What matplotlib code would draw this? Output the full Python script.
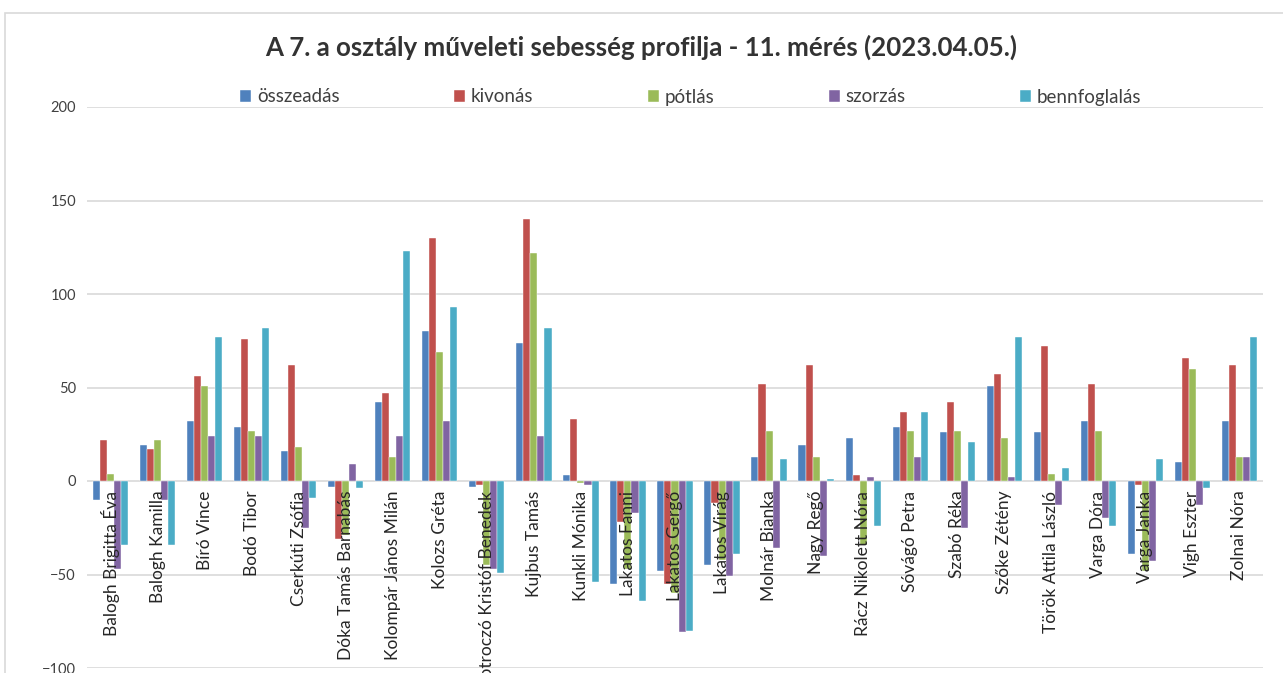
import matplotlib.pyplot as plt
import numpy as np
from matplotlib.patches import Rectangle

plt.rcParams['font.family'] = ['Lato', 'DejaVu Sans']

students = [
    'Balogh Brigitta Éva', 'Balogh Kamilla', 'Bíró Vince', 'Bodó Tibor',
    'Cserkúti Zsófia', 'Dóka Tamás Barnabás', 'Kolompár János Milán',
    'Kolozs Gréta', 'Kotroczó Kristóf Benedek', 'Kujbus Tamás',
    'Kunkli Mónika', 'Lakatos Fanni', 'Lakatos Gergő', 'Lakatos Virág',
    'Molnár Bianka', 'Nagy Regő', 'Rácz Nikolett Nóra', 'Sóvágó Petra',
    'Szabó Réka', 'Szőke Zétény', 'Török Attila László', 'Varga Dóra',
    'Varga Janka', 'Vigh Eszter', 'Zolnai Nóra',
]

osszeadas = [-10, 19, 32, 29, 16, -3, 42, 80, -3, 74, 3, -55, -48, -45,
             13, 19, 23, 29, 26, 51, 26, 32, -39, 10, 32]
kivonas = [22, 17, 56, 76, 62, -31, 47, 130, -2, 140, 33, -22, -55, -12,
           52, 62, 3, 37, 42, 57, 72, 52, -2, 66, 62]
potlas = [4, 22, 51, 27, 18, -29, 13, 69, -45, 122, -1, -47, -60, -42,
          27, 13, -34, 27, 27, 23, 4, 27, -48, 60, 13]
szorzas = [-47, -10, 24, 24, -25, 9, 24, 32, -47, 24, -2, -17, -81, -51,
           -36, -40, 2, 13, -25, 2, -13, -20, -43, -13, 13]
bennfoglalas = [-34, -34, 77, 82, -9, -4, 123, 93, -49, 82, -54, -64, -80, -39,
                12, 1, -24, 37, 21, 77, 7, -24, 12, -4, 77]

series_names = ['összeadás', 'kivonás', 'pótlás', 'szorzás', 'bennfoglalás']
series_values = [osszeadas, kivonas, potlas, szorzas, bennfoglalas]
colors = ['#4F81BD', '#C0504D', '#9BBB59', '#8064A2', '#4BACC6']
yticks = [-100, -50, 0, 50, 100, 150, 200]

fig = plt.figure(figsize=(12.83, 6.73), dpi=100)
ax = fig.add_axes([87 / 1283, 1 - 668 / 673, 1176 / 1283, 561 / 673])

# chart frame (top and left edge visible)
fig.patches.append(Rectangle((5 / 1283, -0.1), 1.2, 1 - 13 / 673 + 0.1,
                             transform=fig.transFigure, fill=False,
                             edgecolor='#d9d9d9', linewidth=1.2))

# horizontal gridlines under the bars
for t in yticks:
    ax.axhline(t, color='#d9d9d9', linewidth=1.2, zorder=1)

x = np.arange(len(students))
w = 0.15
for i, (name, vals, c) in enumerate(zip(series_names, series_values, colors)):
    ax.bar(x + (i - 2) * w, vals, w, color=c, label=name, zorder=2,
           edgecolor='white', linewidth=0.3)

ax.set_xlim(-0.5, len(students) - 0.5)
ax.set_ylim(-100, 200)
ax.set_yticks(yticks)
for s in ['left', 'right', 'top', 'bottom']:
    ax.spines[s].set_visible(False)
ax.spines['bottom'].set_position(('data', 0))

# category names sit just under the zero line and overlap the bars
ax.set_xticks(x)
ax.set_xticklabels(students, rotation=90, fontsize=12.5, color='#262626')
ax.xaxis.set_zorder(5)
ax.tick_params(axis='x', length=0, pad=7)
ax.tick_params(axis='y', length=0, labelsize=10.5, labelcolor='#404040', pad=8)

fig.text(0.5, 1 - 47 / 673, 'A 7. a osztály műveleti sebesség profilja - 11. mérés (2023.04.05.)',
         ha='center', va='center', fontsize=18.6, fontweight='bold', color='#333333')

fig.legend(loc='center', bbox_to_anchor=(0.5385, 1 - 97 / 673), ncol=5,
           frameon=False, fontsize=13.5, handlelength=0.6, handleheight=0.6,
           handletextpad=0.3, columnspacing=6.1, labelcolor='#404040')

fig.savefig('out.png', dpi=100)
